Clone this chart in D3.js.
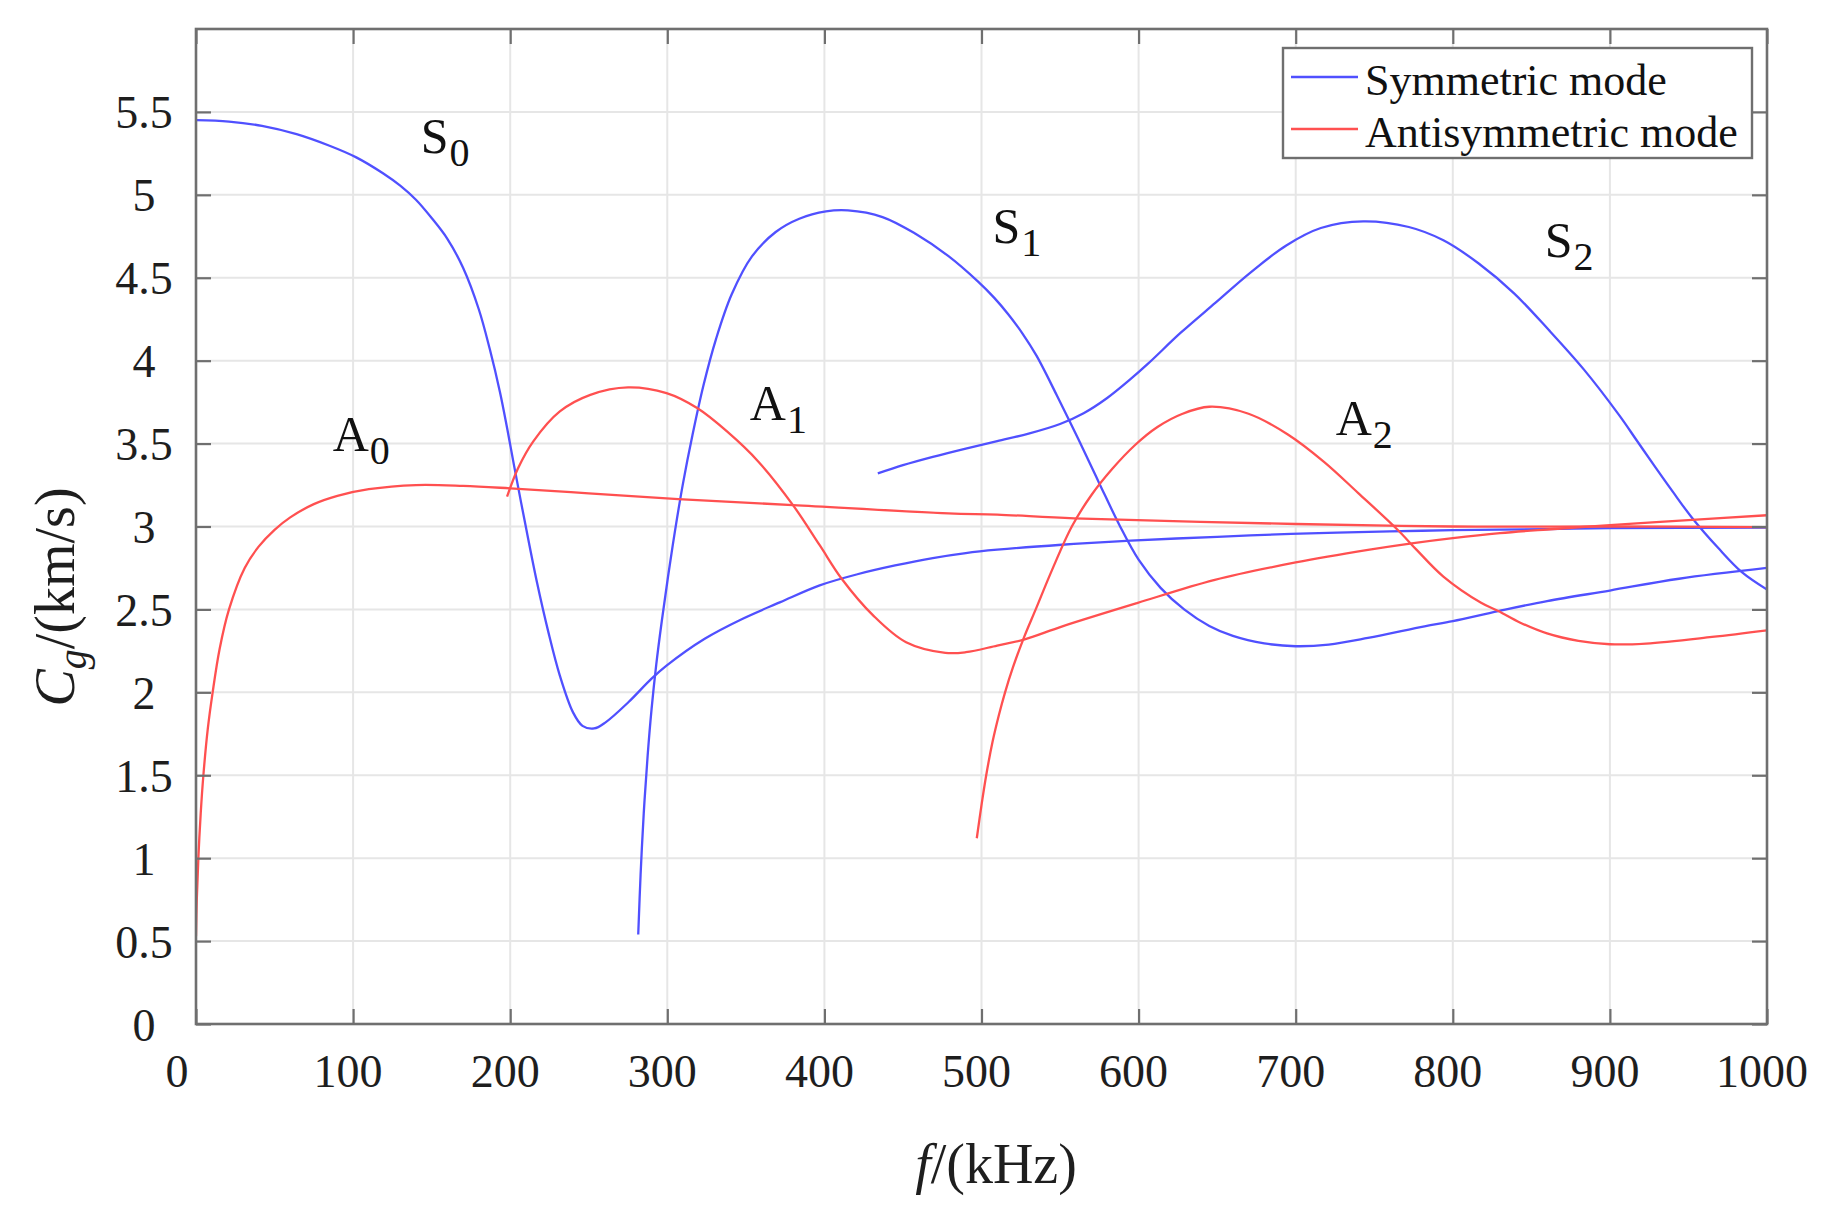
<!DOCTYPE html>
<html>
<head>
<meta charset="utf-8">
<script src="https://cdn.jsdelivr.net/npm/d3@7"></script>
<style>
  html, body { margin: 0; padding: 0; background: #ffffff; }
  svg { display: block; }
</style>
</head>
<body>
<svg id="chart" width="1833" height="1230"></svg>
<script>
// ---------------- DATA ----------------
const xTicks = [0, 100, 200, 300, 400, 500, 600, 700, 800, 900, 1000];
const xTickLabels = ["0", "100", "200", "300", "400", "500", "600", "700", "800", "900", "1000"];
const yTicks = [0, 0.5, 1, 1.5, 2, 2.5, 3, 3.5, 4, 4.5, 5, 5.5];
const yTickLabels = ["0", "0.5", "1", "1.5", "2", "2.5", "3", "3.5", "4", "4.5", "5", "5.5"];

// Symmetric modes (f in kHz, Cg in km/s)
const S0_f = [0, 21, 42, 64, 85, 102, 119, 130, 140, 150, 160, 170, 180, 187, 193.5, 198, 202.4, 209.7, 217, 224.3, 231.6, 240, 246, 253.4, 260.7, 275.2, 289.8, 299.5, 323.8, 348, 372, 397, 421, 445, 469, 490, 510, 551, 595, 650, 697, 760, 800, 860, 900, 1000];
const S0_v = [5.45, 5.442, 5.416, 5.366, 5.296, 5.226, 5.13, 5.055, 4.97, 4.86, 4.735, 4.56, 4.31, 4.07, 3.81, 3.595, 3.37, 3.01, 2.665, 2.363, 2.101, 1.879, 1.798, 1.782, 1.819, 1.94, 2.081, 2.161, 2.323, 2.444, 2.544, 2.645, 2.712, 2.765, 2.81, 2.84, 2.86, 2.89, 2.915, 2.938, 2.955, 2.97, 2.978, 2.984, 2.99, 2.993];

const S1_f = [281.5, 283, 285, 287.5, 290, 293, 296.5, 300.5, 305, 310, 316, 323, 331, 341, 354, 369, 384, 401, 415, 437, 458, 479, 498, 508, 517, 526, 535, 548, 562, 575, 588, 600, 614, 629, 645, 660, 680, 700, 721, 746, 782, 800, 829, 860, 900, 944, 1000];
const S1_v = [0.54, 0.9, 1.27, 1.62, 1.9, 2.17, 2.43, 2.7, 2.98, 3.26, 3.55, 3.85, 4.13, 4.4, 4.63, 4.776, 4.856, 4.9, 4.906, 4.866, 4.765, 4.63, 4.475, 4.38, 4.28, 4.165, 4.03, 3.79, 3.52, 3.26, 3.005, 2.8, 2.63, 2.5, 2.4, 2.34, 2.295, 2.278, 2.288, 2.328, 2.398, 2.43, 2.49, 2.55, 2.614, 2.685, 2.75];

const S2_f = [434, 450, 469, 490, 510, 530, 550, 565, 580, 595, 606, 627, 649, 671, 694, 716, 743, 772, 794, 816.5, 839, 861, 883.5, 906, 917, 928, 940, 952.5, 969, 984, 1000];
const S2_v = [3.32, 3.37, 3.42, 3.47, 3.515, 3.56, 3.618, 3.683, 3.775, 3.89, 3.982, 4.17, 4.35, 4.53, 4.695, 4.8, 4.84, 4.806, 4.726, 4.586, 4.406, 4.186, 3.946, 3.67, 3.52, 3.37, 3.21, 3.05, 2.87, 2.725, 2.62];

// Antisymmetric modes
const A0_f = [0, 0.5, 1.5, 3, 4.7, 7.5, 10.6, 15, 21, 31, 40, 50, 60, 75, 90, 110, 140, 170, 200, 250, 307, 380, 479, 510, 559, 700, 800, 900, 1000];
const A0_v = [0.53, 0.75, 1.0, 1.27, 1.5, 1.78, 2.0, 2.26, 2.5, 2.75, 2.88, 2.98, 3.055, 3.135, 3.185, 3.225, 3.25, 3.245, 3.23, 3.2, 3.165, 3.129, 3.079, 3.072, 3.049, 3.015, 3.0, 3.0, 2.996];

const A1_f = [198, 205, 214.6, 231.6, 251, 275, 299.5, 319, 338, 358, 380, 397, 411, 431, 452, 477, 490, 510, 527, 551.5, 599, 648.5, 700, 746, 775, 800, 830, 860, 900, 955, 1000];
const A1_v = [3.18, 3.351, 3.512, 3.694, 3.794, 3.839, 3.804, 3.714, 3.573, 3.391, 3.129, 2.887, 2.685, 2.464, 2.302, 2.238, 2.242, 2.282, 2.318, 2.398, 2.538, 2.678, 2.783, 2.859, 2.9, 2.93, 2.96, 2.982, 3.008, 3.042, 3.068];

const A2_f = [497, 500, 503, 507, 511, 515, 520, 527, 534.5, 545, 557.5, 570, 583, 597.6, 612, 628, 645, 670, 695, 718, 740, 765, 777, 794, 818, 829, 843, 860, 880, 900, 923, 965, 1000];
const A2_v = [1.12, 1.32, 1.5, 1.7, 1.86, 2.0, 2.15, 2.33, 2.5, 2.74, 3.0, 3.19, 3.345, 3.49, 3.6, 3.68, 3.722, 3.68, 3.555, 3.39, 3.2, 2.979, 2.859, 2.698, 2.54, 2.49, 2.42, 2.355, 2.31, 2.29, 2.294, 2.334, 2.374];

const modeNames = ["S0", "S1", "S2", "A0", "A1", "A2"];
const modeF = [S0_f, S1_f, S2_f, A0_f, A1_f, A2_f];
const modeV = [S0_v, S1_v, S2_v, A0_v, A1_v, A2_v];
const modeType = ["sym", "sym", "sym", "anti", "anti", "anti"];

// Curve annotations: main letter, subscript, anchor (f, Cg)
const labelMain = ["S", "S", "S", "A", "A", "A"];
const labelSub = ["0", "1", "2", "0", "1", "2"];
const labelF = [143, 507, 858.5, 87, 352.5, 725.5];
const labelV = [5.253, 4.71, 4.626, 3.456, 3.64, 3.55];

const legendLabels = ["Symmetric mode", "Antisymmetric mode"];

// ---------------- DRAWING ----------------
const svg = d3.select("#chart");
const L = 196, R = 1767, T = 29, B = 1024;
const x = d3.scaleLinear().domain([0, 1000]).range([L, R]);
const y = d3.scaleLinear().domain([0, 6]).range([B, T]);

const colors = { sym: "#5050ff", anti: "#ff5050" };
const serif = "'Liberation Serif', 'Times New Roman', serif";
const axisColor = "#6f6f6f";
const textColor = "#1e1e1e";

svg.append("rect").attr("x", 0).attr("y", 0).attr("width", 1833).attr("height", 1230).attr("fill", "#fff");

// grid
const grid = svg.append("g");
grid.selectAll("line.vg").data(xTicks.filter(d => d > 0 && d < 1000)).join("line")
  .attr("x1", d => x(d)).attr("x2", d => x(d)).attr("y1", T).attr("y2", B)
  .attr("stroke", "#e6e6e6").attr("stroke-width", 2);
grid.selectAll("line.hg").data(yTicks.filter(d => d > 0)).join("line")
  .attr("x1", L).attr("x2", R).attr("y1", d => y(d)).attr("y2", d => y(d))
  .attr("stroke", "#e6e6e6").attr("stroke-width", 2);

// clip
svg.append("clipPath").attr("id", "plotclip").append("rect")
  .attr("x", L).attr("y", T).attr("width", R - L).attr("height", B - T);

// curves
const line = d3.line().x(d => x(d[0])).y(d => y(d[1])).curve(d3.curveCatmullRom.alpha(0.5));
const curves = svg.append("g").attr("clip-path", "url(#plotclip)");
modeNames.forEach((name, i) => {
  const pts = modeF[i].map((f, k) => [f, modeV[i][k]]);
  curves.append("path").datum(pts)
    .attr("d", line)
    .attr("fill", "none")
    .attr("stroke", colors[modeType[i]])
    .attr("stroke-width", 2.3)
    .attr("stroke-linejoin", "round");
});

// axes (box with inward ticks on all sides)
const tickLen = 15;
const ax = svg.append("g");
const xAxisB = d3.axisBottom(x).tickValues(xTicks).tickSize(-tickLen).tickFormat("");
const xAxisT = d3.axisTop(x).tickValues(xTicks).tickSize(-tickLen).tickFormat("");
const yAxisL = d3.axisLeft(y).tickValues(yTicks).tickSize(-tickLen).tickFormat("");
const yAxisR = d3.axisRight(y).tickValues(yTicks).tickSize(-tickLen).tickFormat("");
ax.append("g").attr("transform", `translate(0,${B})`).call(xAxisB);
ax.append("g").attr("transform", `translate(0,${T})`).call(xAxisT);
ax.append("g").attr("transform", `translate(${L},0)`).call(yAxisL);
ax.append("g").attr("transform", `translate(${R},0)`).call(yAxisR);
ax.selectAll(".domain").remove();
ax.selectAll(".tick line").attr("stroke", axisColor).attr("stroke-width", 2.2);
ax.append("rect").attr("x", L).attr("y", T).attr("width", R - L).attr("height", B - T)
  .attr("fill", "none").attr("stroke", axisColor).attr("stroke-width", 2.6);

// tick labels
svg.append("g").selectAll("text").data(xTicks).join("text")
  .attr("x", (d, i) => x(d) + (i === 0 ? -19 : -5))
  .attr("y", 1087)
  .attr("text-anchor", "middle")
  .attr("font-family", serif).attr("font-size", 46).attr("fill", textColor)
  .text((d, i) => xTickLabels[i]);
svg.append("g").selectAll("text").data(yTicks).join("text")
  .attr("x", 144)
  .attr("y", d => y(d))
  .attr("dy", "0.36em")
  .attr("text-anchor", "middle")
  .attr("font-family", serif).attr("font-size", 46).attr("fill", textColor)
  .text((d, i) => yTickLabels[i]);

// axis titles
const xt = svg.append("text")
  .attr("x", 996).attr("y", 1183).attr("text-anchor", "middle")
  .attr("font-family", serif).attr("font-size", 56).attr("fill", textColor);
xt.append("tspan").attr("font-style", "italic").text("f");
xt.append("tspan").text("/(kHz)");

const yt = svg.append("text")
  .attr("transform", "translate(74,597) rotate(-90)")
  .attr("text-anchor", "middle")
  .attr("font-family", serif).attr("font-size", 56).attr("fill", textColor);
yt.append("tspan").attr("font-style", "italic").text("C");
yt.append("tspan").attr("font-style", "italic").attr("font-size", 40).attr("dy", 12).text("g");
yt.append("tspan").attr("dy", -12).text("/(km/s)");

// curve annotations
const ann = svg.append("g");
modeNames.forEach((name, i) => {
  const t = ann.append("text")
    .attr("x", x(labelF[i])).attr("y", y(labelV[i]))
    .attr("font-family", serif).attr("font-size", 50).attr("fill", "#111");
  t.append("tspan").text(labelMain[i]);
  t.append("tspan").attr("font-size", 40).attr("dy", 13).attr("dx", 1).text(labelSub[i]);
});

// legend
const lg = svg.append("g");
lg.append("rect").attr("x", 1283).attr("y", 48).attr("width", 469).attr("height", 110)
  .attr("fill", "#fff").attr("stroke", axisColor).attr("stroke-width", 2.4);
const legendTypes = ["sym", "anti"];
legendLabels.forEach((lab, i) => {
  const ly = [77, 129][i];
  lg.append("line").attr("x1", 1291).attr("x2", 1358).attr("y1", ly).attr("y2", ly)
    .attr("stroke", colors[legendTypes[i]]).attr("stroke-width", 2.3);
  lg.append("text").attr("x", 1365).attr("y", [95, 147][i])
    .attr("font-family", serif).attr("font-size", 44).attr("fill", "#111").text(lab);
});
</script>
</body>
</html>
